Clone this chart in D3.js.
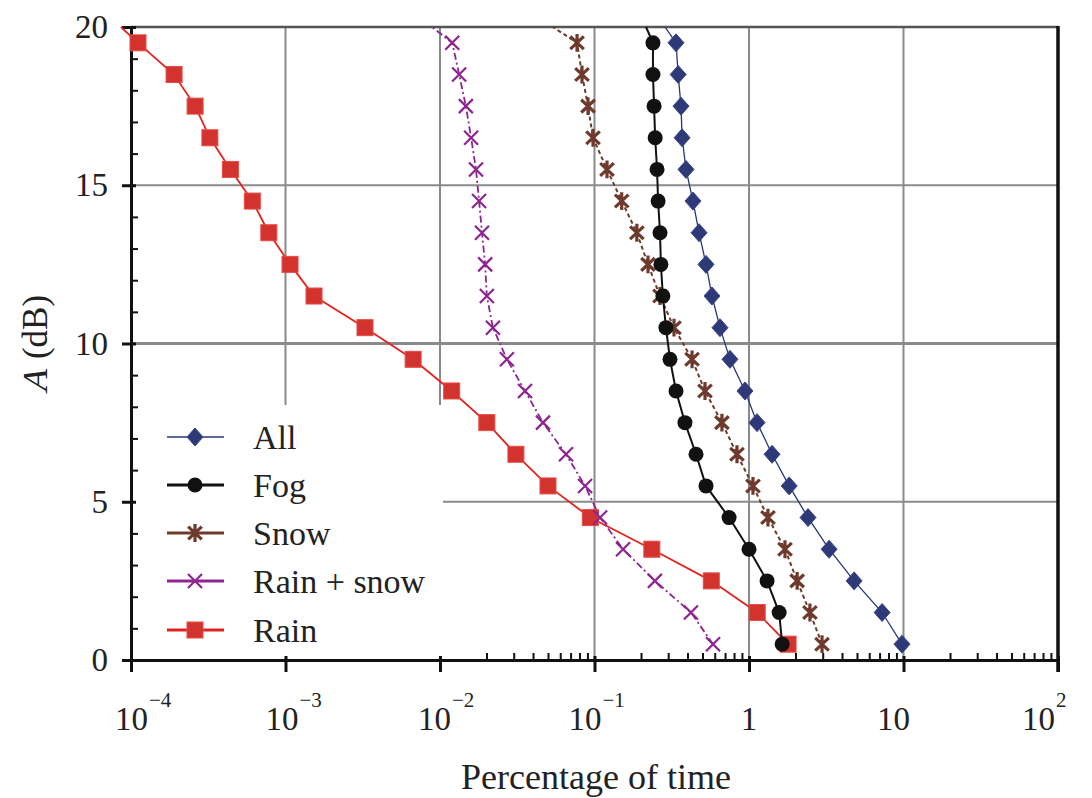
<!DOCTYPE html>
<html>
<head>
<meta charset="utf-8">
<script src="https://cdn.jsdelivr.net/npm/d3@7"></script>
<style>
  body { margin: 0; background: #fff; }
  text { font-family: "Liberation Serif", "Times New Roman", serif; fill: #222; }
</style>
</head>
<body>
<div id="chart"></div>
<script>
// attenuation levels (dB) where the points sit
const attenuation = [0.5, 1.5, 2.5, 3.5, 4.5, 5.5, 6.5, 7.5, 8.5, 9.5,
                     10.5, 11.5, 12.5, 13.5, 14.5, 15.5, 16.5, 17.5, 18.5, 19.5];

// percentage of time (one value per attenuation level)
const allValues = [9.78, 7.27, 4.79, 3.30, 2.41, 1.82, 1.41, 1.127, 0.942, 0.753,
                   0.649, 0.576, 0.527, 0.475, 0.434, 0.391, 0.369, 0.363, 0.348, 0.337];
const fogValues = [1.64, 1.567, 1.309, 1.0, 0.743, 0.527, 0.454, 0.385, 0.337, 0.308,
                   0.290, 0.277, 0.269, 0.2655, 0.258, 0.254, 0.247, 0.243, 0.239, 0.239];
const snowValues = [2.97, 2.48, 2.05, 1.71, 1.327, 1.061, 0.836, 0.668, 0.519, 0.428,
                    0.327, 0.2654, 0.222, 0.188, 0.150, 0.1205, 0.0978, 0.0908, 0.083, 0.0771];
const rainSnowValues = [0.585, 0.421, 0.246, 0.153, 0.1087, 0.0869, 0.0654, 0.0464, 0.0355, 0.0271,
                        0.0220, 0.0201, 0.0196, 0.0187, 0.0179, 0.0171, 0.0159, 0.0147, 0.0133, 0.0120];
const rainValues = [1.79, 1.13, 0.57, 0.235, 0.094, 0.050, 0.031, 0.0201, 0.0119, 0.0067,
                    0.00327, 0.00153, 0.00107, 0.00078, 0.00061, 0.00044, 0.000324, 0.00026, 0.00019, 0.000111];
// where each curve leaves the frame at A = 20 dB
const topEdge = [0.286, 0.2155, 0.0538, 0.00887, 0.000086];

const seriesNames = ['All', 'Fog', 'Snow', 'Rain + snow', 'Rain'];
const xMajor = [1e-4, 1e-3, 1e-2, 1e-1, 1, 10, 100];
const xLabelBase = ['10', '10', '10', '10', '1', '10', '10'];
const xLabelExp = ['\u22124', '\u22123', '\u22122', '\u22121', '', '', '2'];
const yMajor = [0, 5, 10, 15, 20];

const dms = { width: 1092, height: 798, left: 131, right: 1058, top: 27, bottom: 660 };

const svg = d3.select('#chart').append('svg')
    .attr('width', dms.width)
    .attr('height', dms.height);

const x = d3.scaleLog().domain([1e-4, 100]).range([dms.left, dms.right]);
const y = d3.scaleLinear().domain([0, 20]).range([dms.bottom, dms.top]);

// grid
const grid = svg.append('g').attr('id', 'grid');
grid.selectAll('line.vgrid')
    .data(xMajor.slice(1, -1))
    .join('line')
    .attr('x1', d => x(d)).attr('x2', d => x(d))
    .attr('y1', dms.top).attr('y2', dms.bottom)
    .attr('stroke', '#8a8a8a').attr('stroke-width', 2);
grid.selectAll('line.hgrid')
    .data(yMajor.slice(1, -1))
    .join('line')
    .attr('x1', dms.left).attr('x2', dms.right)
    .attr('y1', d => y(d)).attr('y2', d => y(d))
    .attr('stroke', '#8a8a8a').attr('stroke-width', d => d == 10 ? 3 : 2);

// legend background hides the grid underneath
const legend = svg.append('g').attr('id', 'legend');
legend.append('rect')
    .attr('x', dms.left + 2).attr('y', 405)
    .attr('width', 443 - dms.left - 2).attr('height', dms.bottom - 405 - 2)
    .attr('fill', '#fff');

// frame
svg.append('line')
    .attr('x1', dms.left).attr('x2', dms.right)
    .attr('y1', dms.top).attr('y2', dms.top)
    .attr('stroke', '#555').attr('stroke-width', 2.5);
svg.append('line')
    .attr('x1', dms.right).attr('x2', dms.right)
    .attr('y1', dms.top - 1).attr('y2', dms.bottom + 12)
    .attr('stroke', '#111').attr('stroke-width', 3.5);

// x axis: major ticks across the axis, minor ticks pointing up
const minorTicks = [];
[1e-2, 1e-1, 1, 10].forEach(dec => {
    for (let k = 2; k <= 9; k++) minorTicks.push(dec * k);
});
const xAxis = svg.append('g')
    .attr('transform', `translate(0,${dms.bottom})`)
    .call(d3.axisBottom(x).tickValues(xMajor).tickSize(12).tickFormat(''));
xAxis.select('.domain').attr('stroke', '#111').attr('stroke-width', 3);
xAxis.selectAll('.tick line').attr('stroke', '#111').attr('stroke-width', 3).attr('y1', -4);

const xMinor = svg.append('g')
    .attr('transform', `translate(0,${dms.bottom})`)
    .call(d3.axisBottom(x).tickValues(minorTicks).tickSize(-7).tickFormat(''));
xMinor.select('.domain').remove();
xMinor.selectAll('.tick line').attr('stroke', '#111').attr('stroke-width', 2);

// x tick labels with superscripts ("10" sits on the tick, exponent follows)
const xLabelShift = [0, -4, -6, -10, 0, -10, -20];
const xLabels = svg.append('g').attr('id', 'x-labels');
xMajor.forEach((v, i) => {
    const t = xLabels.append('text')
        .attr('x', x(v) + xLabelShift[i])
        .attr('y', 730)
        .attr('text-anchor', xLabelExp[i] ? 'start' : 'middle')
        .style('font-size', '33px');
    if (xLabelExp[i]) t.attr('dx', -16);
    t.append('tspan').text(xLabelBase[i]);
    if (xLabelExp[i]) {
        t.append('tspan')
            .attr('dy', -23)
            .attr('dx', 1)
            .style('font-size', '21px')
            .text(xLabelExp[i]);
    }
});

// y axis
const yAxis = svg.append('g')
    .attr('transform', `translate(${dms.left},0)`)
    .call(d3.axisLeft(y).tickValues(yMajor).tickSize(9).tickPadding(14).tickFormat(d3.format('d')));
yAxis.select('.domain').attr('stroke', '#111').attr('stroke-width', 3);
yAxis.selectAll('.tick line').attr('stroke', '#111').attr('stroke-width', 3).attr('x1', 5);
yAxis.selectAll('.tick text')
    .style('font-family', '"Liberation Serif", serif')
    .style('font-size', '33px')
    .attr('fill', '#222');

const yMinor = svg.append('g')
    .attr('transform', `translate(${dms.left},0)`)
    .call(d3.axisLeft(y).tickValues(d3.range(1, 20).filter(d => d % 5 != 0)).tickSize(-7).tickFormat(''));
yMinor.select('.domain').remove();
yMinor.selectAll('.tick line').attr('stroke', '#111').attr('stroke-width', 2);

// axis titles
svg.append('text')
    .attr('x', 596).attr('y', 789)
    .attr('text-anchor', 'middle')
    .style('font-size', '36px')
    .text('Percentage of time');

// y title: slanted "A" followed by " (dB)", centred as a whole
const yTitle = svg.append('g').attr('transform', 'translate(47,345) rotate(-90)');
const tA = yTitle.append('text').style('font-size', '35px').text('A');
const tUnit = yTitle.append('text').style('font-size', '35px').text('\u00a0(dB)');
const wA = tA.node().getComputedTextLength();
const wUnit = tUnit.node().getComputedTextLength();
const startX = -(wA + wUnit) / 2;
tA.attr('transform', `translate(${startX},0) skewX(-14)`);
tUnit.attr('x', startX + wA + 1);

// marker shapes
const crossPath = s => `M${-s},${-s}L${s},${s}M${-s},${s}L${s},${-s}`;
const starPath = s => `M${-s * 0.8},${-s * 0.75}L${s * 0.8},${s * 0.75}M${-s * 0.8},${s * 0.75}L${s * 0.8},${-s * 0.75}M0,${-s * 1.05}L0,${s * 1.05}`;
const diamondPath = (w, h) => `M0,${-h}L${w},0L0,${h}L${-w},0Z`;

const series = [
    { name: seriesNames[0], values: allValues, top: topEdge[0], color: '#2a3577', width: 1.3, dash: null,
      marker: g => g.append('path').attr('d', diamondPath(8, 9)).attr('fill', '#2e3a78').attr('stroke', '#3a4888').attr('stroke-width', 1) },
    { name: seriesNames[1], values: fogValues, top: topEdge[1], color: '#111', width: 2, dash: null,
      marker: g => g.append('circle').attr('r', 7.5).attr('fill', '#111') },
    { name: seriesNames[2], values: snowValues, top: topEdge[2], color: '#6e3a2c', width: 2, dash: '4,3',
      marker: g => g.append('path').attr('d', starPath(8.5)).attr('stroke', '#6e3a2c').attr('stroke-width', 3.2).attr('fill', 'none') },
    { name: seriesNames[3], values: rainSnowValues, top: topEdge[3], color: '#8e2490', width: 1.8, dash: '7,3,2,3',
      marker: g => g.append('path').attr('d', crossPath(7)).attr('stroke', '#8e2490').attr('stroke-width', 2.2).attr('fill', 'none') },
    { name: seriesNames[4], values: rainValues, top: topEdge[4], color: '#e0241f', width: 1.8, dash: null,
      marker: g => g.append('rect').attr('x', -8).attr('y', -8).attr('width', 16).attr('height', 16).attr('fill', '#d2332f').attr('stroke', '#e84a44').attr('stroke-width', 1) }
];

const lineGen = d3.line().x(d => x(d.v)).y(d => y(d.a));
const plot = svg.append('g').attr('id', 'series');

// draw in reverse so "All" ends up on top, as in the picture
series.slice().reverse().forEach(s => {
    const pts = s.values.map((v, i) => ({ v: v, a: attenuation[i] }));
    pts.push({ v: s.top, a: 20 });
    const g = plot.append('g');
    g.append('path')
        .datum(pts)
        .attr('d', lineGen)
        .attr('fill', 'none')
        .attr('stroke', s.color)
        .attr('stroke-width', s.width)
        .attr('stroke-dasharray', s.dash);
    g.selectAll('g.pt')
        .data(pts.slice(0, -1))
        .join('g')
        .attr('transform', d => `translate(${x(d.v)},${y(d.a)})`)
        .each(function () { s.marker(d3.select(this)); });
});

// legend entries
const legendY = [437, 485, 533, 581, 630];
series.forEach((s, i) => {
    const row = legend.append('g').attr('transform', `translate(0,${legendY[i]})`);
    row.append('line')
        .attr('x1', 167).attr('x2', 224)
        .attr('stroke', s.color)
        .attr('stroke-width', s.name == 'All' ? 1.5 : 3);
    const m = row.append('g').attr('transform', 'translate(195,0)');
    s.marker(m);
    row.append('text')
        .attr('x', 253).attr('y', 12)
        .style('font-size', '34px')
        .text(s.name);
});
</script>
</body>
</html>
